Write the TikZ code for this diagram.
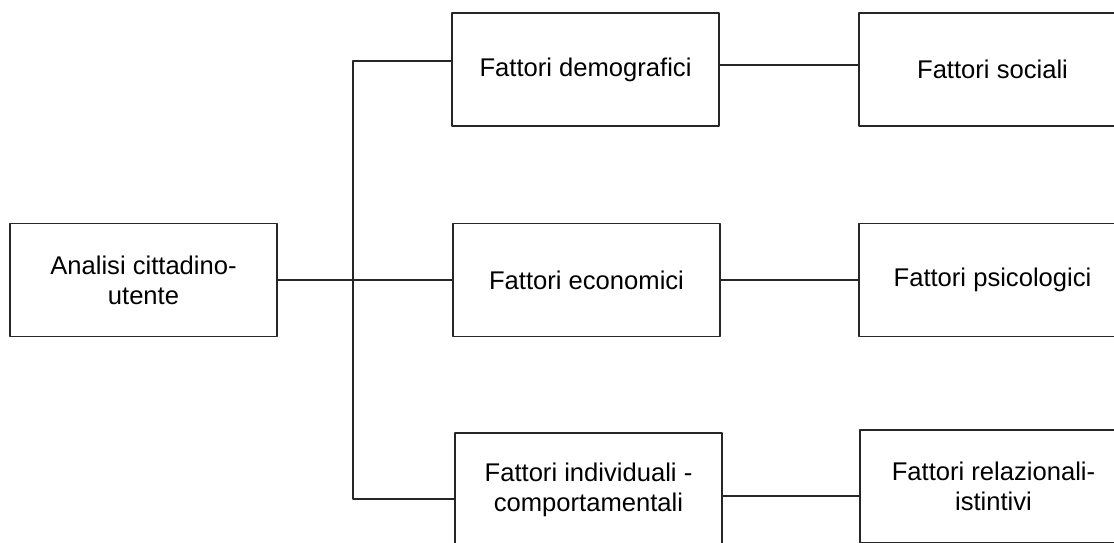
\documentclass[tikz,border=0pt]{standalone}
\usepackage{fontspec}
\setmainfont{Liberation Sans}
\tikzset{
	factor/.style={draw=black!85, line width=1.3pt, minimum width=267pt, minimum height=113pt,
		inner sep=0pt, align=center, font=\fontsize{25.6}{30}\selectfont},
	link/.style={draw=black!85, line width=1.3pt}
}
\begin{document}
\begin{tikzpicture}[x=1pt,y=1pt,line cap=round,line join=round]
		\useasboundingbox (0,0) rectangle (1114,543);
		\clip (0,0) rectangle (1114,543);
		% left box
		\node[factor] (analisi) at (143.5,263) {Analisi cittadino-\\utente};
		% middle column
		\node[factor] (demo) at (585.5,473.5) {Fattori demografici};
		\node[factor] (econ) at (586.5,263) {Fattori economici};
		\node[factor] (indiv) at (588.5,53.5) {Fattori individuali -\\comportamentali};
		% right column
		\node[factor] (sociali) at (992.5,473.5) {Fattori sociali};
		\node[factor] (psico) at (992.5,263) {Fattori psicologici};
		\node[factor] (relaz) at (993.5,56.5) {Fattori relazionali-\\istintivi};
		% connectors
		\coordinate (trunk) at (353,263);
		\coordinate (dt) at ([yshift=8.5pt]demo.west);
		\coordinate (ib) at ([yshift=-9.5pt]indiv.west);
		\draw[link] (analisi.east) -- (econ.west);
		\draw[link] (dt) -| (trunk) |- (ib);
		\coordinate (dr) at ([yshift=4.5pt]demo.east);
		\coordinate (ir) at ([yshift=-6.5pt]indiv.east);
		\draw[link] (dr) -- (dr -| sociali.west);
		\draw[link] (econ.east) -- (psico.west);
		\draw[link] (ir) -- (ir -| relaz.west);
		\end{tikzpicture}
\end{document}
